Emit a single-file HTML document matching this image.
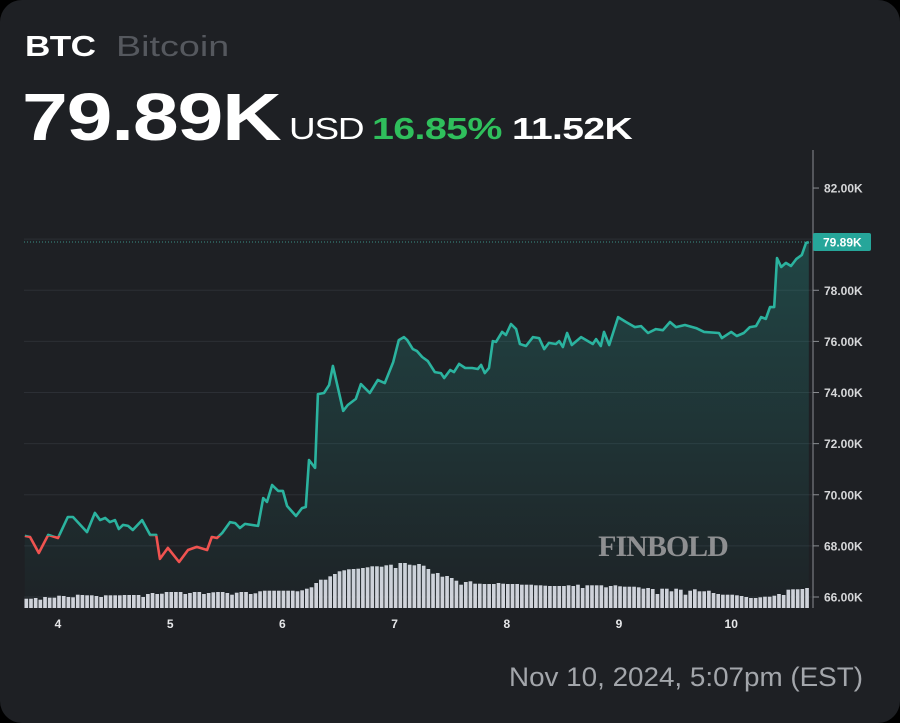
<!DOCTYPE html>
<html><head><meta charset="utf-8">
<style>
html,body{margin:0;padding:0;background:#000;}
body{width:900px;height:723px;overflow:hidden;font-family:"Liberation Sans",sans-serif;}
#card{position:absolute;left:0;top:0;width:900px;height:723px;background:#1e2024;border-radius:22px;overflow:hidden;}
.t{position:absolute;white-space:nowrap;transform-origin:0 0;}
</style></head><body>
<div id="card">
<div class="t" style="left:25px;top:31px;font-size:29px;font-weight:bold;color:#fff;letter-spacing:-0.5px;transform:scaleX(1.21)">BTC</div>
<div class="t" style="left:116px;top:31px;font-size:29px;color:#55585e;transform:scaleX(1.3)">Bitcoin</div>
<div class="t" style="left:22px;top:79px;font-size:67px;font-weight:bold;color:#fff;letter-spacing:-1px;transform:scaleX(1.23)">79.89K</div>
<div class="t" style="left:289px;top:111px;font-size:31px;color:#fff;letter-spacing:-1px;transform:scaleX(1.19)">USD</div>
<div class="t" style="left:372px;top:111px;font-size:31px;font-weight:bold;color:#2fbf5c;letter-spacing:-0.5px;transform:scaleX(1.27)">16.85%</div>
<div class="t" style="left:512px;top:111px;font-size:31px;font-weight:bold;color:#fff;letter-spacing:-0.5px;transform:scaleX(1.26)">11.52K</div>
<div class="t" style="left:509px;top:662px;font-size:27px;color:#a3a6ab;transform:scaleX(1.03)">Nov 10, 2024, 5:07pm (EST)</div>
<svg id="chart" width="900" height="723" style="position:absolute;left:0;top:0"></svg>
</div>
<script>
const hours=[-7.1,-6.0,-4.1,-2.1,0,2.1,3.2,6.2,7.9,9.0,10.1,11.1,12.2,13.0,13.9,15.0,16.0,18.0,19.7,21.0,21.8,23.5,25.9,27.8,29.7,31.9,32.9,34.0,35.1,36.8,37.9,38.9,40.0,42.8,43.9,44.7,45.8,47.1,48.1,49.0,50.9,52.2,53.0,53.7,55.0,55.6,56.9,58.0,58.8,61.0,62.0,63.7,64.8,66.7,68.4,69.9,71.7,72.9,74.0,74.7,75.9,76.8,77.9,79.1,80.6,81.9,82.6,83.9,84.7,85.8,87.1,88.6,89.8,90.5,91.3,92.2,93.0,93.7,95.0,95.8,96.9,98.0,98.8,100.1,101.6,102.9,104.0,105.0,106.5,107.2,108.0,108.9,109.9,111.9,114.4,115.1,116.1,116.8,117.9,119.8,121.5,123.4,124.7,126.2,127.9,129.4,130.9,132.2,134.1,136.5,138.2,141.4,142.0,144.0,145.2,146.7,148.0,149.3,150.4,151.4,152.3,153.2,153.8,154.7,155.7,156.8,157.9,159.1,160.0,160.6];
const prices=[68.39,68.35,67.72,68.43,68.31,69.13,69.13,68.54,69.29,69.01,69.09,68.93,69.01,68.66,68.82,68.78,68.62,69.01,68.43,68.43,67.49,67.92,67.37,67.84,67.96,67.84,68.35,68.31,68.50,68.93,68.89,68.70,68.86,68.78,69.87,69.72,70.38,70.15,70.15,69.56,69.17,69.48,69.52,71.36,71.05,73.94,73.98,74.29,75.04,73.28,73.51,73.75,74.33,73.98,74.49,74.37,75.19,76.05,76.17,76.05,75.70,75.62,75.39,75.23,74.80,74.76,74.57,74.88,74.80,75.12,74.96,74.96,74.92,75.08,74.76,74.96,76.01,75.98,76.37,76.25,76.68,76.48,75.90,75.82,76.17,76.13,75.70,75.94,75.90,76.01,75.78,76.33,75.86,76.17,75.90,76.09,75.82,76.37,75.86,76.95,76.76,76.56,76.60,76.33,76.48,76.44,76.76,76.56,76.64,76.52,76.37,76.33,76.13,76.37,76.21,76.33,76.56,76.60,76.95,76.88,77.34,77.34,79.26,78.91,79.07,78.95,79.22,79.38,79.85,79.89];
const volumes=[9.3,9.3,10,8.3,11,10.3,10.3,12.3,12,11,10.7,13.3,13,12.7,12.7,12,11,12.7,12.7,12.7,12.7,13,13,13,13,11,14,15,14,14.3,16,16,16,16,14,15,16,16,14,15,15.7,16,16,15,13.3,15.3,16,16,14,14.7,16.7,17.3,17.3,17.3,17.3,17.3,17.3,17.3,16.7,17.7,19.3,20.7,25,28.3,28.3,31.7,34,36.7,37.7,38.7,39,39.3,40,40.7,41.7,41.7,41.3,42.7,43.3,40,45,45,43.3,
42.7,44,42.3,39,34.3,35,31.3,32,30,27.3,23.3,26,26.7,24.3,24.3,24,24,24,25,24.3,24,24,24,23.3,23.3,23.3,22.7,22.7,22.3,22,22,22,22,22.7,22,23.3,20,22.7,22.7,22.7,22.7,20.7,22,22.7,21.7,21.3,21.3,21.3,20.7,19.3,20,19,14,19.3,19.3,16.7,19.3,18.3,13.3,17.3,18.7,16.7,16.7,17.3,15,14,13.3,13.3,13.3,12.7,12,11,10,10,10.7,11.3,11.3,12.3,14,13,18.3,18.7,18.7,19,20];
const dayTicks=[4,5,6,7,8,9,10];
const priceTicks=[66,68,70,72,74,76,78,80,82];
const lastPrice=79.89, baseline=68.39;

const NS='http://www.w3.org/2000/svg';
const svg=document.getElementById('chart');
const X0=58, PXH=112.2/24, Y0=597, PXK=25.56, VB=608, AXX=813;
const xS=h=>X0+h*PXH;
const yS=v=>Y0-(v-66)*PXK;
function mk(tag,attrs,parent){const e=document.createElementNS(NS,tag);for(const k in attrs)e.setAttribute(k,attrs[k]);(parent||svg).appendChild(e);return e;}

const defs=mk('defs',{});
const g=mk('linearGradient',{id:'fillg',x1:0,y1:0,x2:0,y2:1},defs);
mk('stop',{offset:'0','stop-color':'#26a69a','stop-opacity':'0.28'},g);
mk('stop',{offset:'1','stop-color':'#26a69a','stop-opacity':'0.02'},g);
const by=yS(baseline);
const c1=mk('clipPath',{id:'above'},defs);mk('rect',{x:0,y:0,width:900,height:by},c1);
const c2=mk('clipPath',{id:'below'},defs);mk('rect',{x:0,y:by,width:900,height:723},c2);

priceTicks.forEach(v=>{
  const y=yS(v);
  if(v<82){const gl=mk('line',{x1:24,x2:AXX,y1:y,y2:y,stroke:'#2c2f35','stroke-width':1});
  
  }
  const tk=mk('line',{x1:AXX,x2:AXX+6,y1:y,y2:y,stroke:'#8a8d92','stroke-width':1});
  
  
  if(Math.abs(v-lastPrice)>0.6){
  const t=mk('text',{x:AXX+11,y:y+4.5,fill:'#d6d7d9','font-size':12,'font-weight':'bold','font-family':'Liberation Sans, sans-serif'});
  t.textContent=v.toFixed(2)+'K';
  
  }
});
const ax=mk('line',{x1:AXX,x2:AXX,y1:150,y2:VB,stroke:'#8a8d92','stroke-width':1});



volumes.forEach((v,i)=>{
  const h=-7+i;
  const r=mk('rect',{x:xS(h)-0.8,y:VB-v,width:PXH-1,height:v,fill:'#d4d4dc'});
  
  
});

let d='';hours.forEach((h,i)=>{d+=(i?'L':'M')+xS(h).toFixed(1)+' '+yS(prices[i]).toFixed(1);});
const area=mk('path',{d:d+'L'+xS(hours[hours.length-1])+' '+VB+'L'+xS(hours[0])+' '+VB+'Z',fill:'url(#fillg)'});


const lu=mk('path',{d:d,fill:'none',stroke:'#2bb39f','stroke-width':2.6,'stroke-linejoin':'round','clip-path':'url(#above)'});


const ld=mk('path',{d:d,fill:'none',stroke:'#ef5350','stroke-width':2.6,'stroke-linejoin':'round','clip-path':'url(#below)'});



const ly=yS(lastPrice);
const dl=mk('line',{x1:24,x2:AXX,y1:ly,y2:ly,stroke:'#3a8f86','stroke-width':1,'stroke-dasharray':'1 2'});


const lb=mk('rect',{x:AXX,y:ly-9,width:58,height:18,rx:2,fill:'#26a69a'});


const lt=mk('text',{x:AXX+10,y:ly+4.5,fill:'#fff','font-size':12,'font-weight':'bold','font-family':'Liberation Sans, sans-serif'});
lt.textContent=lastPrice.toFixed(2)+'K';



dayTicks.forEach(dd=>{
  const t=mk('text',{x:xS((dd-4)*24),y:628,fill:'#e6e7e9','font-size':12,'font-weight':'bold','text-anchor':'middle','font-family':'Liberation Sans, sans-serif'});
  t.textContent=dd;
  
  
});

const wm=mk('text',{x:663,y:556,fill:'#8e8f91','font-size':30,'font-weight':'bold','text-anchor':'middle','font-family':'Liberation Serif, serif','letter-spacing':'-1'});
wm.textContent='FINBOLD';


</script>
</body></html>
